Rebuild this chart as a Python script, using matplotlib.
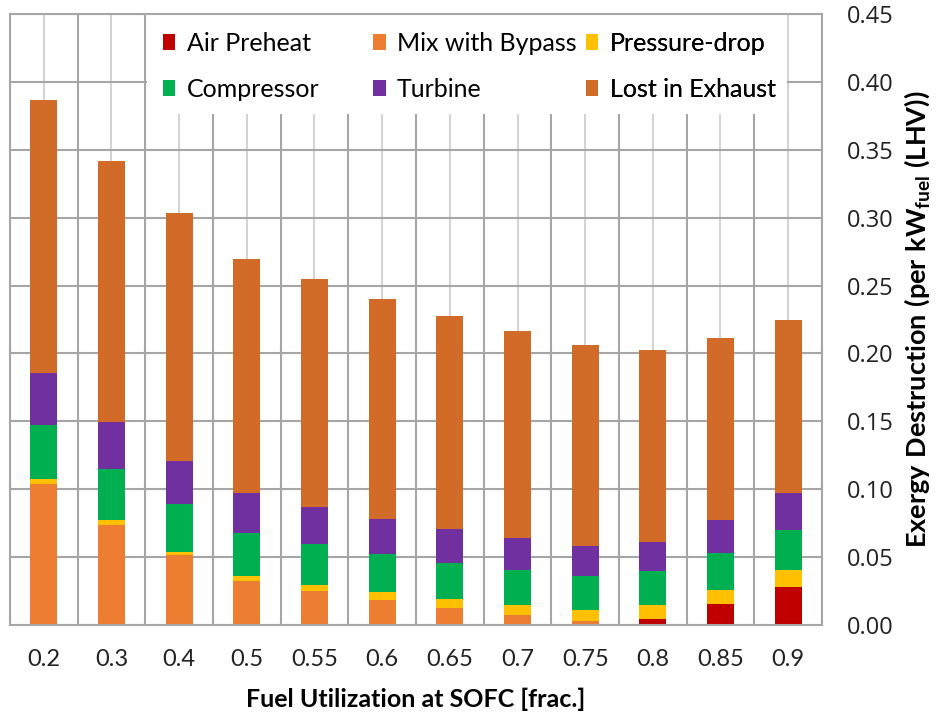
import numpy as np
import matplotlib
matplotlib.use('Agg')
import matplotlib.pyplot as plt
from matplotlib.patches import Rectangle, Patch

# Fuel utilization categories
fu_labels = ['0.2', '0.3', '0.4', '0.5', '0.55', '0.6', '0.65', '0.7', '0.75', '0.8', '0.85', '0.9']

# Exergy destruction components (per kW fuel, LHV)
air_preheat = [0.0, 0.0, 0.0, 0.0, 0.0, 0.0, 0.0, 0.0, 0.0, 0.0046, 0.0154, 0.0282]
mix_bypass = [0.1036, 0.0737, 0.0513, 0.0327, 0.0250, 0.0182, 0.0123, 0.0076, 0.0029, 0.0, 0.0, 0.0]
pressure_drop = [0.0039, 0.0036, 0.0027, 0.0036, 0.0047, 0.0059, 0.0068, 0.0069, 0.0084, 0.0099, 0.0105, 0.0123]
compressor = [0.0395, 0.0378, 0.0351, 0.0315, 0.0302, 0.0280, 0.0263, 0.0262, 0.0246, 0.0251, 0.0271, 0.0292]
turbine = [0.0384, 0.0342, 0.0319, 0.0292, 0.0270, 0.0262, 0.0251, 0.0231, 0.0221, 0.0213, 0.0246, 0.0273]
lost_exhaust = [0.2013, 0.1927, 0.1823, 0.1724, 0.1680, 0.1621, 0.1574, 0.1525, 0.1485, 0.1417, 0.1336, 0.1277]

series = [
    ('Air Preheat', air_preheat, '#C00000'),
    ('Mix with Bypass', mix_bypass, '#ED7D31'),
    ('Pressure-drop', pressure_drop, '#FFC000'),
    ('Compressor', compressor, '#00B050'),
    ('Turbine', turbine, '#7030A0'),
    ('Lost in Exhaust', lost_exhaust, '#D26B28'),
]

label_font = ['Lato', 'DejaVu Sans']

# bold Lato for the math-mode y label (kW with "fuel" subscript)
plt.rcParams['mathtext.fontset'] = 'custom'
plt.rcParams['mathtext.rm'] = 'Lato:bold'
plt.rcParams['mathtext.it'] = 'Lato:bold'
plt.rcParams['mathtext.bf'] = 'Lato:bold'

fig = plt.figure(figsize=(9.4, 7.16), dpi=100)
ax = fig.add_axes([10 / 940, 91 / 716, 812 / 940, 611 / 716])

x = np.arange(len(fu_labels))
bottom = np.zeros(len(fu_labels))
handles = {}
for name, vals, color in series:
    vals = np.array(vals)
    ax.bar(x, vals, width=0.4, bottom=bottom, color=color, edgecolor='none', zorder=2)
    handles[name] = Patch(facecolor=color, edgecolor='none')
    bottom += vals

ax.set_xlim(-0.5, len(fu_labels) - 0.5)
ax.set_ylim(0, 0.45)

# y axis on the right
ax.yaxis.tick_right()
ax.yaxis.set_label_position('right')
ax.set_yticks(np.arange(0, 0.451, 0.05))
ax.set_yticklabels([f'{v:.2f}' for v in np.arange(0, 0.451, 0.05)], family='Open Sans',
                   fontsize=17, color='#222222')
ax.tick_params(axis='y', length=0, pad=18)

ax.set_xticks(x)
ax.set_xticklabels(fu_labels, family=label_font, fontsize=17, color='#222222')
ax.set_xticks(np.arange(-0.5, len(fu_labels), 1.0), minor=True)
ax.tick_params(axis='x', which='both', length=0, pad=17)

# gridlines: light at bar centres, darker at category boundaries
ax.set_axisbelow(True)
ax.grid(True, axis='x', which='major', color='#D4D4D4', linewidth=1.5)
ax.grid(True, axis='x', which='minor', color='#A6A6A6', linewidth=1.5)
ax.grid(True, axis='y', which='major', color='#A6A6A6', linewidth=1.5)
for s in ax.spines.values():
    s.set_color('#A6A6A6')
    s.set_linewidth(1.5)

ax.set_xlabel('Fuel Utilization at SOFC [frac.]', family=label_font, fontsize=18,
              fontweight='bold', labelpad=13)
ax.set_ylabel(r'$\mathrm{Exergy\ Destruction\ (per\ kW_{fuel}\ (LHV))}$',
              fontsize=19.5, labelpad=6)

# white area behind the legend hides the gridlines
ax.add_patch(Rectangle((0.169, 0.836), 0.788, 0.164, transform=ax.transAxes,
                       facecolor='white', edgecolor='none', zorder=1.5))

# legend laid out in three equal columns like the original
columns = [['Air Preheat', 'Compressor'],
           ['Mix with Bypass', 'Turbine'],
           ['Pressure-drop', 'Lost in Exhaust']]
col_x = [0.176, 0.435, 0.697]
for names, cx in zip(columns, col_x):
    leg = ax.legend([handles[n] for n in names], names, loc='upper left',
                    bbox_to_anchor=(cx, 0.987), frameon=False, prop={'family': label_font, 'size': 18},
                    handlelength=0.5, handleheight=0.6, handletextpad=0.45,
                    labelspacing=0.92, borderpad=0.4, borderaxespad=0.0)
    ax.add_artist(leg)

fig.savefig('out.png', dpi=100, facecolor='white')
